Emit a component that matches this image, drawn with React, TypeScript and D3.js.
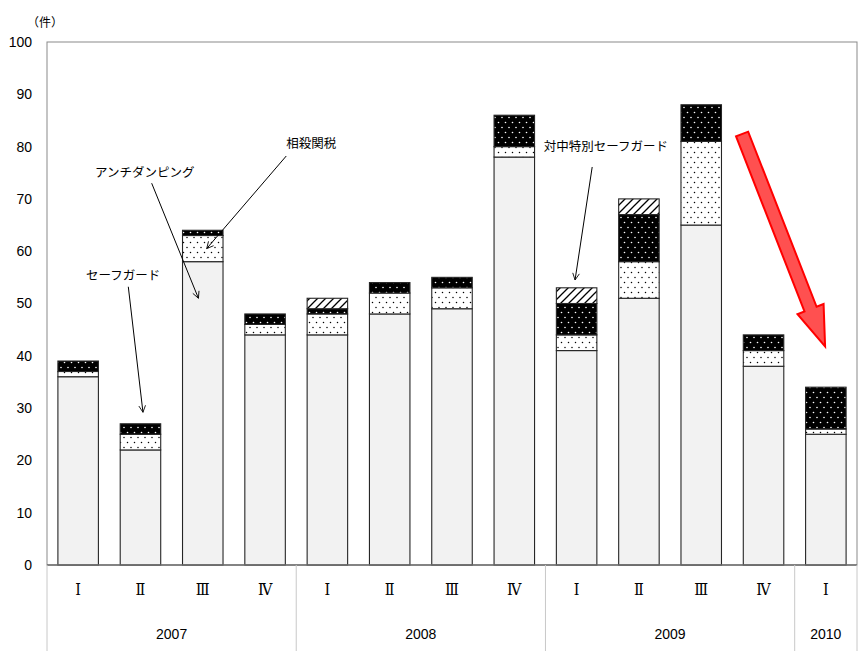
import React from 'react';
import * as d3 from 'd3';

const quarters = ['Ⅰ', 'Ⅱ', 'Ⅲ', 'Ⅳ', 'Ⅰ', 'Ⅱ', 'Ⅲ', 'Ⅳ', 'Ⅰ', 'Ⅱ', 'Ⅲ', 'Ⅳ', 'Ⅰ'];
const years = ['2007', '2008', '2009', '2010'];
const yearCounts = [4, 4, 4, 1];
const antiDumping = [36, 22, 58, 44, 44, 48, 49, 78, 41, 51, 65, 38, 25];
const countervailing = [1, 3, 5, 2, 4, 4, 4, 2, 3, 7, 16, 3, 1];
const safeguard = [2, 2, 1, 2, 1, 2, 2, 6, 6, 9, 7, 3, 8];
const chinaSafeguard = [0, 0, 0, 0, 2, 0, 0, 0, 3, 3, 0, 0, 0];
const seriesNames = ['アンチダンピング', '相殺関税', 'セーフガード', '対中特別セーフガード'];
const yTicks = [0, 10, 20, 30, 40, 50, 60, 70, 80, 90, 100];

// annotations in (fractional category, value) coordinates
const callouts = [
  { text: 'アンチダンピング', tc: 1.57, tv: 75.1, fc: 1.68, fv: 73.0, ec: 2.43, ev: 51.0 },
  { text: 'セーフガード', tc: 1.22, tv: 55.3, fc: 1.305, fv: 53.2, ec: 1.54, ev: 29.2 },
  { text: '相殺関税', tc: 4.24, tv: 80.5, fc: 3.84, fv: 78.2, ec: 2.563, ev: 60.5 },
  { text: '対中特別セーフガード', tc: 8.97, tv: 79.9, fc: 8.75, fv: 76.1, ec: 8.475, ev: 54.5 },
];
const trendArrow = { fc: 11.156, fv: 82.4, ec: 12.488, ev: 41.8 };

const W = 865, H = 656;
const L = 47, R = 857, T = 42, B = 565;

export default function App() {
  const idx = quarters.map((_, i) => i);
  const x = d3.scaleBand<number>().domain(idx).range([L, R]).paddingInner(0.35).paddingOuter(0.175);
  const cat = d3.scaleLinear().domain([0, quarters.length]).range([L, R]);
  const y = d3.scaleLinear().domain([0, 100]).range([B, T]);
  const step = x.step();

  const table = idx.map(i => ({
    i,
    ad: antiDumping[i], cvd: countervailing[i], sg: safeguard[i], csg: chinaSafeguard[i],
  }));
  const stack = d3.stack<any>().keys(['ad', 'cvd', 'sg', 'csg'])(table);
  const fills = ['#f2f2f2', 'url(#cvd)', 'url(#sg)', 'url(#csg)'];

  const yearBounds: number[] = [0];
  yearCounts.forEach(c => yearBounds.push(yearBounds[yearBounds.length - 1] + c));

  const numFont = '"Liberation Sans Narrow", "Arial Narrow", "Liberation Sans", Arial, sans-serif';
  const jpFont = '"Noto Sans CJK JP", sans-serif';

  const tx = cat(trendArrow.fc), ty = y(trendArrow.fv);
  const hx = cat(trendArrow.ec), hy = y(trendArrow.ev);
  const dx = hx - tx, dy = hy - ty, len = Math.hypot(dx, dy);
  const ux = dx / len, uy = dy / len, px = -uy, py = ux;
  const sw = 6.5, hl = 40, hw = 14;
  const bx = hx - ux * hl, by = hy - uy * hl;
  const arrowPts = [
    [tx + px * sw, ty + py * sw],
    [bx + px * sw, by + py * sw],
    [bx + px * hw, by + py * hw],
    [hx, hy],
    [bx - px * hw, by - py * hw],
    [bx - px * sw, by - py * sw],
    [tx - px * sw, ty - py * sw],
  ].map(p => p.join(',')).join(' ');

  return (
    <svg width={W} height={H} style={{ position: 'absolute', left: 0, top: 0, background: '#fff' }}>
      <defs>
        <pattern id="cvd" width="7" height="10" patternUnits="userSpaceOnUse">
          <rect width="7" height="10" fill="#fff" />
          <circle cx="1.5" cy="2.5" r="0.75" fill="#000" />
          <circle cx="5" cy="7.5" r="0.75" fill="#000" />
        </pattern>
        <pattern id="sg" width="7" height="10" patternUnits="userSpaceOnUse">
          <rect width="7" height="10" fill="#000" />
          <circle cx="1.5" cy="2.5" r="0.8" fill="#fff" />
          <circle cx="5" cy="7.5" r="0.8" fill="#fff" />
        </pattern>
        <pattern id="csg" width="8" height="8" patternUnits="userSpaceOnUse">
          <rect width="8" height="8" fill="#fff" />
          <path d="M0,8 L8,0 M-2,2 L2,-2 M6,10 L10,6" stroke="#000" strokeWidth="1.3" />
        </pattern>
        <marker id="open" viewBox="-10 -6 12 12" markerWidth="10" markerHeight="10" refX="0" refY="0" orient="auto" markerUnits="userSpaceOnUse">
          <path d="M-8,-4 L0,0 L-8,4" fill="none" stroke="#000" strokeWidth="1" />
        </marker>
      </defs>

      <rect x={L} y={T} width={R - L} height={B - T} fill="none" stroke="#898989" strokeWidth={1} />

      {yTicks.map(t => (
        <text key={t} x={32} y={y(t)} dy="0.35em" textAnchor="end" fontFamily={numFont} fontSize={14} fill="#000">{t}</text>
      ))}
      <text x={45} y={23} dy="0.35em" textAnchor="middle" fontFamily={jpFont} fontSize={12} fill="#000">（件）</text>

      {stack.map((s, si) => (
        <g key={si}>
          {s.map((d, i) => (d[1] - d[0] > 0 ? (
            <rect key={i} x={x(i)} y={y(d[1])} width={x.bandwidth()} height={y(d[0]) - y(d[1])}
              fill={fills[si]} stroke="#262626" strokeWidth={1.1}>
              <title>{seriesNames[si]}</title>
            </rect>
          ) : null))}
        </g>
      ))}

      <line x1={L} x2={R} y1={B} y2={B} stroke="#6e6e6e" strokeWidth={1.5} />
      {yearBounds.map((b, k) => (
        <line key={k} x1={L + b * step} x2={L + b * step} y1={B} y2={651} stroke="#c8c8c8" strokeWidth={1} />
      ))}
      {quarters.map((q, i) => (
        <text key={i} x={x(i)! + x.bandwidth() / 2} y={589} dy="0.35em" textAnchor="middle"
          fontFamily='"DejaVu Serif Condensed", "DejaVu Serif", serif' fontSize={16} fill="#000">{q}</text>
      ))}
      {years.map((yr, k) => (
        <text key={yr} x={L + ((yearBounds[k] + yearBounds[k + 1]) / 2) * step} y={634} dy="0.35em" textAnchor="middle"
          fontFamily={numFont} fontSize={14} fill="#000">{yr}</text>
      ))}

      {callouts.map((c, k) => (
        <g key={k}>
          <line x1={cat(c.fc)} y1={y(c.fv)} x2={cat(c.ec)} y2={y(c.ev)} stroke="#000" strokeWidth={1} markerEnd="url(#open)" />
          <text x={cat(c.tc)} y={y(c.tv)} dy="0.35em" textAnchor="middle" fontFamily={jpFont} fontSize={12.5} fill="#000">{c.text}</text>
        </g>
      ))}

      <polygon points={arrowPts} fill="#ff5050" stroke="#ff0000" strokeWidth={2} strokeLinejoin="miter" />
    </svg>
  );
}
